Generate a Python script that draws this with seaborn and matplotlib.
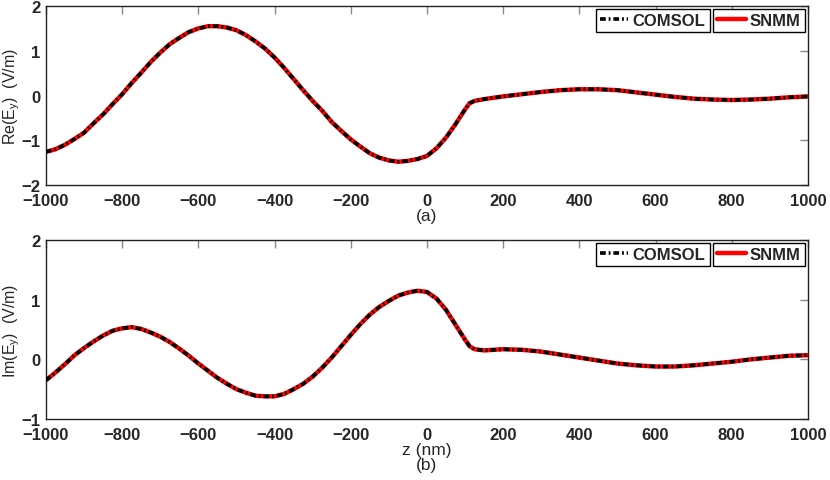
#!/usr/bin/env python

import numpy as np
import pandas as pd
import seaborn as sns
import matplotlib.pyplot as plt

z_re = [-1000, -975, -950, -925, -900, -875, -850, -825, -800, -775, -750,
        -725, -700, -675, -650, -625, -600, -575, -550, -525, -500, -475,
        -450, -425, -400, -375, -350, -325, -300, -275, -250, -225, -200,
        -175, -150, -125, -100, -75, -50, -25, 0, 25, 50, 75, 100, 112, 125,
        150, 200, 250, 300, 350, 400, 450, 500, 550, 600, 650, 700, 750, 800,
        850, 900, 950, 1000]
re_ey = [-1.26, -1.20, -1.10, -0.97, -0.83, -0.62, -0.42, -0.19, 0.03, 0.28,
         0.51, 0.75, 0.96, 1.15, 1.29, 1.42, 1.50, 1.55, 1.55, 1.52, 1.46, 1.35,
         1.21, 1.05, 0.85, 0.62, 0.37, 0.12, -0.12, -0.34, -0.59, -0.79, -0.98,
         -1.14, -1.29, -1.39, -1.45, -1.48, -1.46, -1.42, -1.35, -1.18, -0.94,
         -0.64, -0.31, -0.17, -0.12, -0.08, -0.02, 0.03, 0.08, 0.12, 0.14, 0.14,
         0.12, 0.07, 0.02, -0.03, -0.07, -0.09, -0.10, -0.09, -0.07, -0.04,
         -0.02]

z_im = [-1000, -975, -950, -925, -900, -875, -850, -825, -800, -775, -750,
        -725, -700, -675, -650, -625, -600, -575, -550, -525, -500, -475,
        -450, -425, -400, -375, -350, -325, -300, -275, -250, -225, -200,
        -175, -150, -125, -100, -75, -50, -25, 0, 25, 50, 75, 100, 112, 125,
        150, 200, 250, 300, 350, 400, 450, 500, 550, 600, 650, 700, 750, 800,
        850, 900, 950, 1000]
im_ey = [-0.35, -0.22, -0.08, 0.07, 0.19, 0.30, 0.40, 0.48, 0.52, 0.54, 0.51,
         0.45, 0.38, 0.29, 0.18, 0.06, -0.07, -0.19, -0.31, -0.41, -0.50, -0.56,
         -0.61, -0.62, -0.62, -0.58, -0.50, -0.41, -0.29, -0.14, 0.03, 0.22,
         0.41, 0.59, 0.75, 0.88, 0.98, 1.07, 1.12, 1.15, 1.13, 1.02, 0.83, 0.58,
         0.33, 0.22, 0.17, 0.15, 0.17, 0.16, 0.13, 0.08, 0.03, -0.02, -0.07,
         -0.10, -0.12, -0.12, -0.10, -0.07, -0.04, 0.00, 0.03, 0.06, 0.07]

xticks = list(range(-1000, 1001, 200))


def draw(ax, z, vals, ylabel, yticks, xlabel_lines):
    df = pd.DataFrame({'z': z, 'v': vals})
    sns.lineplot(x='z', y='v', data=df, ax=ax, color='#ff0000',
                 linewidth=3.2, zorder=2)
    h_snmm = ax.lines[-1]
    sns.lineplot(x='z', y='v', data=df, ax=ax, color='black', linewidth=2.6,
                 linestyle=(0, (1.6, 0.8, 0.5, 0.8)), zorder=3)
    h_comsol = ax.lines[-1]

    ax.set_xlim(-1000, 1000)
    ax.set_ylim(yticks[0], yticks[-1])
    ax.set_xticks(xticks)
    ax.set_xticklabels([str(t).replace('-', '\u2212') for t in xticks])
    ax.set_yticks(yticks)
    ax.set_yticklabels([str(t).replace('-', '\u2212') for t in yticks])
    ax.tick_params(direction='in', length=6, width=1, color='#888888',
                   top=True, right=True, labelsize=12)
    ax.tick_params(axis='x', pad=6)
    ax.tick_params(axis='y', pad=4)
    for lab in ax.get_xticklabels() + ax.get_yticklabels():
        lab.set_fontweight('bold')
    for sp in ax.spines.values():
        sp.set_color('#222222')
        sp.set_linewidth(1.0)
    ax.grid(False)
    ax.set_ylabel(ylabel, fontsize=11.5)
    ax.yaxis.set_label_coords(-0.031, 0.5)
    ax.set_xlabel(xlabel_lines, fontsize=12.5, labelpad=0, linespacing=1.0)

    leg_kw = dict(loc='upper right', fancybox=False, framealpha=1,
                  edgecolor='black', handlelength=1.7, handletextpad=0.25,
                  borderpad=0.25, borderaxespad=0,
                  prop={'weight': 'bold', 'size': 12})
    l1 = ax.legend([h_comsol], ['COMSOL'], bbox_to_anchor=(0.871, 0.985), **leg_kw)
    l1.get_frame().set_linewidth(1.0)
    ax.add_artist(l1)
    l2 = ax.legend([h_snmm], ['SNMM'], bbox_to_anchor=(0.996, 0.985), **leg_kw)
    l2.get_frame().set_linewidth(1.0)


def main():
    sns.set_theme(style="white")
    plt.rcParams['font.family'] = ['Liberation Sans', 'DejaVu Sans']
    plt.rcParams['mathtext.fontset'] = 'custom'
    plt.rcParams['mathtext.rm'] = 'Liberation Sans'
    plt.rcParams['mathtext.it'] = 'Liberation Sans'

    fig = plt.figure(figsize=(8.3, 4.81), dpi=100)
    ax1 = fig.add_axes([0.0554, 0.6133, 0.918, 0.372])
    ax2 = fig.add_axes([0.0554, 0.1268, 0.918, 0.372])

    draw(ax1, z_re, re_ey, r'Re(E$_\mathrm{y}$)  (V/m)', [-2, -1, 0, 1, 2], '(a)')
    draw(ax2, z_im, im_ey, r'Im(E$_\mathrm{y}$)  (V/m)', [-1, 0, 1, 2], 'z (nm)\n(b)')

    fig.savefig('out.png', dpi=100)


if __name__ == '__main__':
    main()
